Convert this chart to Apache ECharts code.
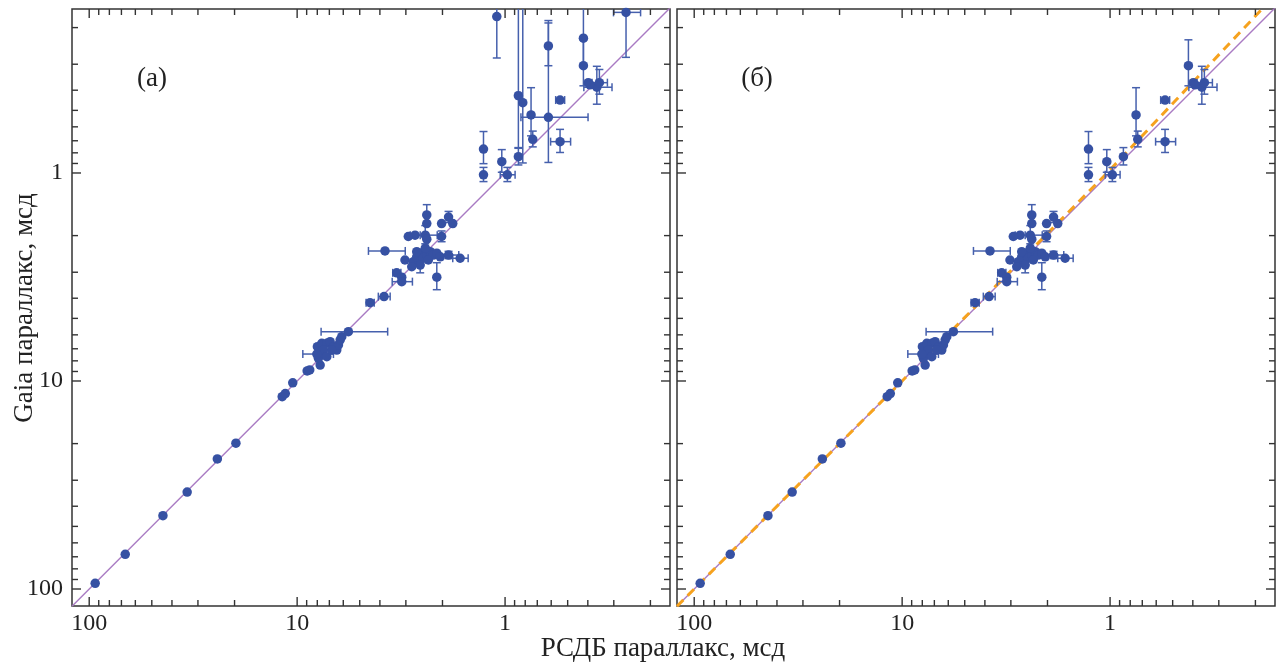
<!DOCTYPE html>
<html><head><meta charset="utf-8">
<script src="https://cdn.jsdelivr.net/npm/echarts@6/dist/echarts.min.js"></script>
<style>html,body{margin:0;padding:0;background:#fff}#c{width:1279px;height:667px}</style>
</head><body><div id="c"></div><script>
// ---- data (parallaxes, mas) ----
const vlbiPlx = [
  93.6, 67.1, 44.2, 33.8, 24.2, 19.7, 11.8, 11.4, 10.5, 8.95, 8.7,
  7.75, 7.90, 7.81, 7.99, 7.61, 7.20, 6.94, 6.69, 6.45, 6.33, 6.21, 6.10, 7.47, 7.20, 6.81, 5.67, 8.04,
  4.46, 3.82, 3.32, 3.14, 3.14, 3.03, 3.78, 2.71, 2.76, 2.66, 2.56, 2.47, 2.38, 2.29, 2.21, 2.34, 2.56, 2.81,
  2.13, 2.05, 2.42, 2.66, 2.13, 1.87, 1.645, 2.02, 2.42, 2.38, 2.38, 2.02, 1.87, 1.785, 2.38, 2.92,
  1.27, 1.27, 1.037, 0.975, 0.863, 0.863, 0.822, 0.750, 0.736, 0.619, 0.619, 0.544, 0.544, 0.420, 0.420,
  0.398, 0.362, 0.352, 0.390, 0.262, 1.096
];
const gaiaPlx = [
  93.9, 68.1, 44.4, 34.2, 23.7, 19.9, 11.9, 11.5, 10.2, 8.95, 8.85,
  8.38, 7.78, 7.36, 6.84, 6.59, 6.59, 6.47, 6.84, 7.10, 6.71, 6.35, 6.12, 7.10, 7.64, 7.10, 5.79, 7.42,
  4.20, 3.93, 3.02, 3.17, 3.33, 2.62, 2.37, 1.99, 2.67, 2.53, 2.43, 2.57, 2.48, 2.39, 2.48, 2.62, 2.77, 2.82,
  2.43, 2.53, 2.30, 2.39, 3.17, 2.48, 2.57, 2.02, 1.99, 1.75, 1.59, 1.75, 1.63, 1.75, 2.08, 2.02,
  0.767, 1.02, 0.882, 1.02, 0.835, 0.425, 0.459, 0.526, 0.689, 0.245, 0.540, 0.446, 0.707, 0.225, 0.305,
  0.368, 0.387, 0.368, 0.377, 0.169, 0.177
];
const vlbiErr = [
  0, 0, 0, 0, 0, 0, 0, 0, 0, 0, 0,
  0, 0, 0, 0, 0, 0, 0, 0, 0, 0, 0, 0, 0, 0, 0, 2.0, 1.35,
  0.2, 0.25, 0.15, 0, 0.35, 0, 0.76, 0.15, 0, 0, 0, 0, 0, 0, 0, 0, 0, 0,
  0, 0, 0, 0, 0, 0.2, 0.14, 0, 0.3, 0, 0, 0, 0, 0, 0, 0,
  0, 0, 0, 0.08, 0, 0.02, 0, 0, 0, 0, 0.22, 0.027, 0.06, 0, 0,
  0, 0.056, 0.03, 0, 0.039, 0
];
const gaiaErr = [
  0, 0, 0, 0, 0, 0, 0, 0, 0, 0, 0,
  0, 0, 0, 0, 0, 0, 0, 0, 0, 0, 0, 0, 0, 0, 0, 0, 0,
  0, 0, 0, 0, 0, 0, 0, 0, 0, 0, 0, 0, 0, 0, 0, 0, 0.25, 0,
  0, 0, 0, 0, 0.47, 0.1, 0, 0.12, 0.2, 0, 0.17, 0, 0.1, 0, 0, 0,
  0.135, 0.08, 0.11, 0.08, 0.08, 0.336, 0.436, 0.137, 0.06, 0.06, 0.35, 0, 0.09, 0.08, 0.076,
  0, 0.08, 0.05, 0, 0.109, 0.103
];
// 1 = object kept in panel (б)
const inPanelB = [
  1, 1, 1, 1, 1, 1, 1, 1, 1, 1, 1,
  1, 1, 1, 1, 1, 1, 1, 1, 1, 1, 1, 1, 1, 1, 1, 1, 1,
  1, 1, 1, 1, 1, 1, 1, 1, 1, 1, 1, 1, 1, 1, 1, 1, 1, 1,
  1, 1, 1, 1, 1, 1, 1, 1, 1, 1, 1, 1, 1, 1, 1, 1,
  1, 1, 1, 1, 1, 0, 0, 1, 1, 0, 0, 1, 1, 0, 1,
  1, 1, 1, 1, 0, 0
];
// fitted relation (orange dashed)
const fitVlbi = [121, 10, 1.034, 0.482, 0.186];
const fitGaia = [121, 10, 1.0, 0.446, 0.163];
// axis ticks
const majorTicks = [1, 10, 100];
const minorTicks = [0.2,0.3,0.4,0.5,0.6,0.7,0.8,0.9, 2,3,4,5,6,7,8,9, 20,30,40,50,60,70,80,90];
const X_MIN = 0.161, X_MAX = 121;
const Y_MIN = 0.1628, Y_MAX = 120.7;

const FONT = 'Liberation Serif';
const pointColor = '#3651a3';
const errColor = '#4660ad';

function panelData(onlyB) {
  const pts = [], errs = [];
  for (let i = 0; i < vlbiPlx.length; i++) {
    if (onlyB && !inPanelB[i]) continue;
    pts.push([vlbiPlx[i], gaiaPlx[i]]);
    errs.push([vlbiPlx[i], gaiaPlx[i], vlbiErr[i], gaiaErr[i]]);
  }
  return { pts, errs };
}
const tickData = majorTicks.map(v => [v, v, 1]).concat(minorTicks.map(v => [v, v, 0]));

function errRender(params, api) {
  const x = api.value(0), y = api.value(1), ex = api.value(2), ey = api.value(3);
  const c = api.coord([x, y]);
  const st = { stroke: errColor, lineWidth: 1.5 };
  const cap = 4;
  const ch = [];
  if (ey > 0) {
    const a = api.coord([x, Math.max(y - ey, 1e-4)])[1];
    const b = api.coord([x, y + ey])[1];
    ch.push({ type: 'line', shape: { x1: c[0], y1: a, x2: c[0], y2: b }, style: st });
    ch.push({ type: 'line', shape: { x1: c[0] - cap, y1: a, x2: c[0] + cap, y2: a }, style: st });
    ch.push({ type: 'line', shape: { x1: c[0] - cap, y1: b, x2: c[0] + cap, y2: b }, style: st });
  }
  if (ex > 0) {
    const a = api.coord([Math.max(x - ex, 1e-4), y])[0];
    const b = api.coord([x + ex, y])[0];
    ch.push({ type: 'line', shape: { x1: a, y1: c[1], x2: b, y2: c[1] }, style: st });
    ch.push({ type: 'line', shape: { x1: a, y1: c[1] - cap, x2: a, y2: c[1] + cap }, style: st });
    ch.push({ type: 'line', shape: { x1: b, y1: c[1] - cap, x2: b, y2: c[1] + cap }, style: st });
  }
  return { type: 'group', children: ch };
}

function tickRender(params, api) {
  const cs = params.coordSys;
  const v = api.value(0);
  const len = api.value(2) === 1 ? 9 : 6;
  const st = { stroke: '#333', lineWidth: 1.4 };
  const ch = [];
  const px = api.coord([v, 1])[0];
  const py = api.coord([1, v])[1];
  if (px > cs.x + 1 && px < cs.x + cs.width - 1) {
    ch.push({ type: 'line', shape: { x1: px, y1: cs.y + cs.height, x2: px, y2: cs.y + cs.height - len }, style: st });
    ch.push({ type: 'line', shape: { x1: px, y1: cs.y, x2: px, y2: cs.y + len }, style: st });
  }
  if (py > cs.y + 1 && py < cs.y + cs.height - 1) {
    ch.push({ type: 'line', shape: { x1: cs.x, y1: py, x2: cs.x + len, y2: py }, style: st });
    ch.push({ type: 'line', shape: { x1: cs.x + cs.width, y1: py, x2: cs.x + cs.width - len, y2: py }, style: st });
  }
  return { type: 'group', children: ch };
}

function labelFmt(v) {
  const l = Math.log10(v), r = Math.round(l);
  return (Math.abs(l - r) < 1e-6 && r >= 0 && r <= 2) ? String(Math.round(Math.pow(10, r))) : '';
}

const A = panelData(false), B = panelData(true);
const diag = [[X_MIN, X_MIN], [X_MAX, X_MAX]];
const fitLine = fitVlbi.map((v, i) => [v, fitGaia[i]]);

const grids = [
  { left: 72, top: 9, width: 598, height: 597 },
  { left: 677, top: 9, width: 598, height: 597 }
].map(g => Object.assign(g, { show: true, borderColor: '#333', borderWidth: 1.5, backgroundColor: 'transparent' }));

function xAx(i) {
  return {
    gridIndex: i, type: 'log', logBase: 10, min: X_MIN, max: X_MAX, inverse: true,
    axisLine: { show: false }, axisTick: { show: false }, splitLine: { show: false },
    axisLabel: { formatter: labelFmt, fontFamily: FONT, fontSize: 24, color: '#222', margin: 6, hideOverlap: false }
  };
}
function yAx(i) {
  return {
    gridIndex: i, type: 'log', logBase: 10, min: Y_MIN, max: Y_MAX, inverse: true,
    axisLine: { show: false }, axisTick: { show: false }, splitLine: { show: false },
    axisLabel: { show: i === 0, formatter: labelFmt, fontFamily: FONT, fontSize: 24, color: '#222', margin: 9, hideOverlap: false }
  };
}

const series = [];
[A, B].forEach((P, i) => {
  series.push({ type: 'line', xAxisIndex: i, yAxisIndex: i, data: diag, symbol: 'none', silent: true, z: 2,
    lineStyle: { color: '#a97bc3', width: 1.4 } });
  if (i === 1) series.push({ type: 'line', xAxisIndex: i, yAxisIndex: i, data: fitLine, symbol: 'none', silent: true, z: 3,
    lineStyle: { color: '#f6a21e', width: 3, type: [9, 6] } });
  series.push({ type: 'custom', xAxisIndex: i, yAxisIndex: i, data: P.errs, renderItem: errRender, clip: true, z: 4,
    encode: { x: 0, y: 1 }, silent: true });
  series.push({ type: 'scatter', xAxisIndex: i, yAxisIndex: i, data: P.pts, symbol: 'circle', symbolSize: 9.5, z: 5,
    itemStyle: { color: pointColor, opacity: 1 } });
  series.push({ type: 'custom', xAxisIndex: i, yAxisIndex: i, data: tickData, renderItem: tickRender, z: 6,
    encode: { x: 0, y: 1 }, silent: true });
});

const chart = echarts.init(document.getElementById('c'), null, { renderer: 'canvas' });
chart.setOption({
  animation: false,
  backgroundColor: '#fff',
  grid: grids,
  xAxis: [xAx(0), xAx(1)],
  yAxis: [yAx(0), yAx(1)],
  series: series,
  graphic: [
    { type: 'text', x: 152, y: 79, style: { text: '(a)', font: '27px "Liberation Serif"', fill: '#222', align: 'center', verticalAlign: 'middle' } },
    { type: 'text', x: 757, y: 79, style: { text: '(б)', font: '27px "Liberation Serif"', fill: '#222', align: 'center', verticalAlign: 'middle' } },
    { type: 'text', x: 25, y: 308, rotation: Math.PI / 2,
      style: { text: 'Gaia параллакс, мсд', font: '27px "Liberation Serif"', fill: '#222', align: 'center', verticalAlign: 'middle' } },
    { type: 'text', x: 663, y: 649,
      style: { text: 'РСДБ параллакс, мсд', font: '27px "Liberation Serif"', fill: '#222', align: 'center', verticalAlign: 'middle' } }
  ]
});
</script></body></html>
